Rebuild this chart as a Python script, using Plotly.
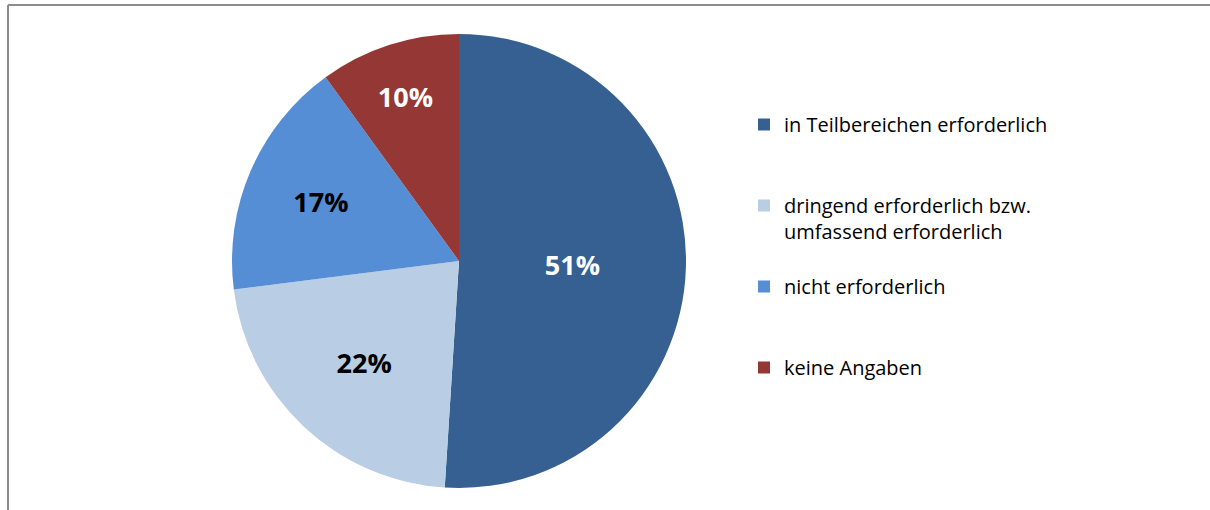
import plotly.graph_objects as go

labels = ["in Teilbereichen erforderlich",
          "dringend erforderlich bzw.<br>umfassend erforderlich",
          "nicht erforderlich",
          "keine Angaben"]
values = [51, 22, 17, 10]
colors = ["#376092", "#B9CDE5", "#558ED5", "#953735"]
text_colors = ["#FFFFFF", "#000000", "#000000", "#FFFFFF"]

# pad legend labels so every entry has 3 lines and the symbol sits on the first text line
legend_labels = []
for lab in labels:
    n = lab.count("<br>") + 1
    if n == 1:
        legend_labels.append("&nbsp;<br>" + lab + "<br>&nbsp;")
    else:
        legend_labels.append("&nbsp;<br>" + lab)

W, H = 1210, 510
cx, cy, R = 459, 261, 227
FONT = "Open Sans, Lato, sans-serif"

fig = go.Figure()
fig.add_trace(go.Pie(
    labels=legend_labels,
    values=values,
    sort=False,
    direction="clockwise",
    rotation=0,
    marker=dict(colors=colors, line=dict(width=0)),
    texttemplate="%{percent:.0%}",
    textposition="inside",
    insidetextorientation="horizontal",
    textfont=dict(family=FONT, size=27, color=text_colors, weight="bold"),
    hoverinfo="label+percent",
    domain=dict(x=[(cx - R) / W, (cx + R) / W],
                y=[(H - cy - R) / H, (H - cy + R) / H]),
))

fig.update_layout(
    width=W, height=H,
    margin=dict(l=0, r=0, t=0, b=0),
    paper_bgcolor="white",
    plot_bgcolor="white",
    font=dict(family=FONT, size=20, color="#000000"),
    legend=dict(x=744 / W, xanchor="left", y=1 - 79 / H, yanchor="top",
                bgcolor="rgba(0,0,0,0)",
                font=dict(family=FONT, size=20)),
    shapes=[
        dict(type="line", xref="paper", yref="paper",
             x0=8 / W, x1=1.0, y0=1 - 5 / H, y1=1 - 5 / H,
             line=dict(color="#8C8C8C", width=2)),
        dict(type="line", xref="paper", yref="paper",
             x0=8 / W, x1=8 / W, y0=1 - 5 / H, y1=0,
             line=dict(color="#8C8C8C", width=2)),
    ],
)

fig.write_html("out.html", config={"displayModeBar": False},
               post_script="document.body.style.margin='0';document.body.style.overflow='hidden';")
